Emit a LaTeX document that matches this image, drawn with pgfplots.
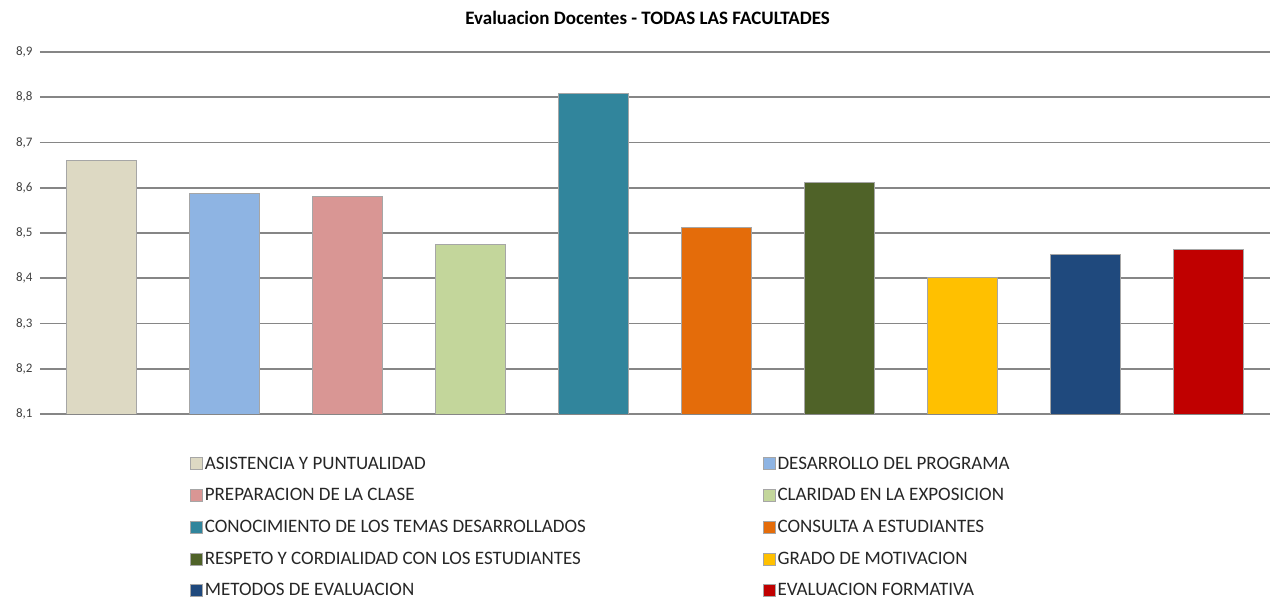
\documentclass[border=0pt]{standalone}
\usepackage{fontspec}
\setmainfont{Carlito}
\usepackage{pgfplots}
\pgfplotsset{compat=1.18}

\definecolor{cAsis}{HTML}{DDD9C3}
\definecolor{cDesa}{HTML}{8EB4E3}
\definecolor{cPrep}{HTML}{D99694}
\definecolor{cClar}{HTML}{C3D69B}
\definecolor{cCono}{HTML}{31859C}
\definecolor{cCons}{HTML}{E46C0A}
\definecolor{cResp}{HTML}{4F6228}
\definecolor{cGrad}{HTML}{FFC000}
\definecolor{cMeto}{HTML}{1F497D}
\definecolor{cEval}{HTML}{C00000}
\definecolor{gridgray}{HTML}{868686}
\definecolor{ticktext}{HTML}{404040}

\begin{document}
\begin{tikzpicture}
\useasboundingbox (-40pt,-187pt) rectangle (1230pt,414pt);
\begin{axis}[
    scale only axis,
    width=1230pt, height=362pt,
    at={(0pt,0pt)}, anchor=south west,
    ybar, bar width=70pt, /pgf/bar shift=0pt,
    xmin=-0.5, xmax=9.5,
    ymin=8.1, ymax=8.9,
    ytick={8.1,8.2,...,8.9},
    xtick=\empty,
    ymajorgrids,
    grid style={gridgray, line width=1.8pt},
    axis line style={draw=none},
    major tick style={draw=none},
    yticklabel style={font=\fontsize{13}{15}\selectfont, text=ticktext,
      /pgf/number format/.cd, use comma, fixed, fixed zerofill, precision=1,
      assume math mode=true},
    yticklabel shift=4pt,
    title={\bfseries Evaluacion Docentes - TODAS LAS FACULTADES},
    title style={font=\fontsize{19}{22}\selectfont, at={(0.494,1)}, yshift=18pt},
    legend columns=2,
    legend cell align=left,
    legend image code/.code={\draw[#1, draw=gray!70, line width=0.6pt] (0pt,-6pt) rectangle (12pt,6pt);},
    legend style={draw=none, fill=none, inner sep=0pt,
      font=\fontsize{19}{22}\selectfont, text=black!85,
      at={(0.122,-0.112)}, anchor=north west,
      row sep=13.9pt,
      /tikz/every even column/.append style={column sep=175pt}},
    every axis plot/.append style={draw=gray!70, line width=0.6pt},
  ]
  \addplot[fill=cAsis] coordinates {(0,8.661)};
  \addlegendentry{ASISTENCIA Y PUNTUALIDAD}
  \addplot[fill=cDesa] coordinates {(1,8.588)};
  \addlegendentry{DESARROLLO DEL PROGRAMA}
  \addplot[fill=cPrep] coordinates {(2,8.582)};
  \addlegendentry{PREPARACION DE LA CLASE}
  \addplot[fill=cClar] coordinates {(3,8.476)};
  \addlegendentry{CLARIDAD EN LA EXPOSICION}
  \addplot[fill=cCono] coordinates {(4,8.809)};
  \addlegendentry{CONOCIMIENTO DE LOS TEMAS DESARROLLADOS}
  \addplot[fill=cCons] coordinates {(5,8.513)};
  \addlegendentry{CONSULTA A ESTUDIANTES}
  \addplot[fill=cResp] coordinates {(6,8.613)};
  \addlegendentry{RESPETO Y CORDIALIDAD CON LOS ESTUDIANTES}
  \addplot[fill=cGrad] coordinates {(7,8.403)};
  \addlegendentry{GRADO DE MOTIVACION}
  \addplot[fill=cMeto] coordinates {(8,8.454)};
  \addlegendentry{METODOS DE EVALUACION}
  \addplot[fill=cEval] coordinates {(9,8.465)};
  \addlegendentry{EVALUACION FORMATIVA}
\end{axis}
\end{tikzpicture}
\end{document}
